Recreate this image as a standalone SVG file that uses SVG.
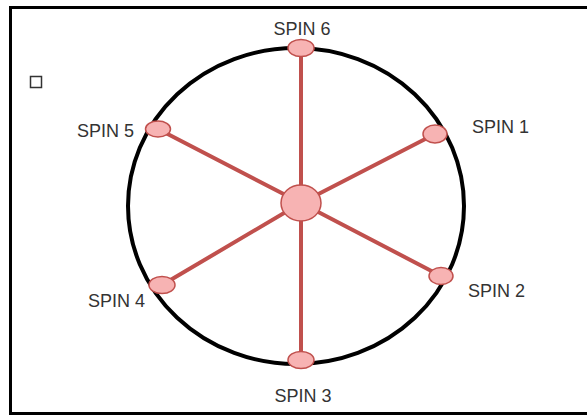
<svg xmlns="http://www.w3.org/2000/svg" width="587" height="415" viewBox="0 0 587 415">
<style>
.spoke{stroke:#c0504d;stroke-width:4;stroke-linecap:round}
.spin{fill:#f7b3b3;stroke:#c0504d;stroke-width:1.5}
.lbl{font-family:"Liberation Sans",Arial,sans-serif;font-size:18px;fill:#333}
</style>
<rect width="587" height="415" fill="#fff"/>
<rect x="10.5" y="7.5" width="600" height="406" fill="none" stroke="#000" stroke-width="3"/>
<rect x="30.5" y="76.5" width="11" height="11" fill="none" stroke="#333" stroke-width="1.5"/>
<ellipse id="ring" cx="296" cy="206" rx="168" ry="158" fill="none" stroke="#000" stroke-width="4"/>
<g id="connectors">
<line class="spoke" x1="301" y1="203" x2="301" y2="48"/>
<line class="spoke" x1="301" y1="203" x2="435" y2="134"/>
<line class="spoke" x1="301" y1="203" x2="441" y2="276"/>
<line class="spoke" x1="301" y1="203" x2="301" y2="360"/>
<line class="spoke" x1="301" y1="203" x2="162" y2="285"/>
<line class="spoke" x1="301" y1="203" x2="158" y2="129"/>
</g>
<g id="hub"><ellipse class="spin" cx="301" cy="203" rx="20" ry="18"/></g>
<g id="spin6"><ellipse class="spin" cx="301" cy="48" rx="13" ry="8.5"/><text class="lbl" x="302" y="35" text-anchor="middle">SPIN 6</text></g>
<g id="spin1"><ellipse class="spin" cx="435" cy="134" rx="12" ry="9"/><text class="lbl" x="472" y="133">SPIN 1</text></g>
<g id="spin2"><ellipse class="spin" cx="441" cy="276" rx="12" ry="8.5"/><text class="lbl" x="468" y="297">SPIN 2</text></g>
<g id="spin3"><ellipse class="spin" cx="301" cy="360" rx="13" ry="8.5"/><text class="lbl" x="303" y="402" text-anchor="middle">SPIN 3</text></g>
<g id="spin4"><ellipse class="spin" cx="162" cy="285" rx="13" ry="8.5"/><text class="lbl" x="88" y="307">SPIN 4</text></g>
<g id="spin5"><ellipse class="spin" cx="158" cy="129" rx="12.5" ry="8"/><text class="lbl" x="77" y="137">SPIN 5</text></g>
</svg>
